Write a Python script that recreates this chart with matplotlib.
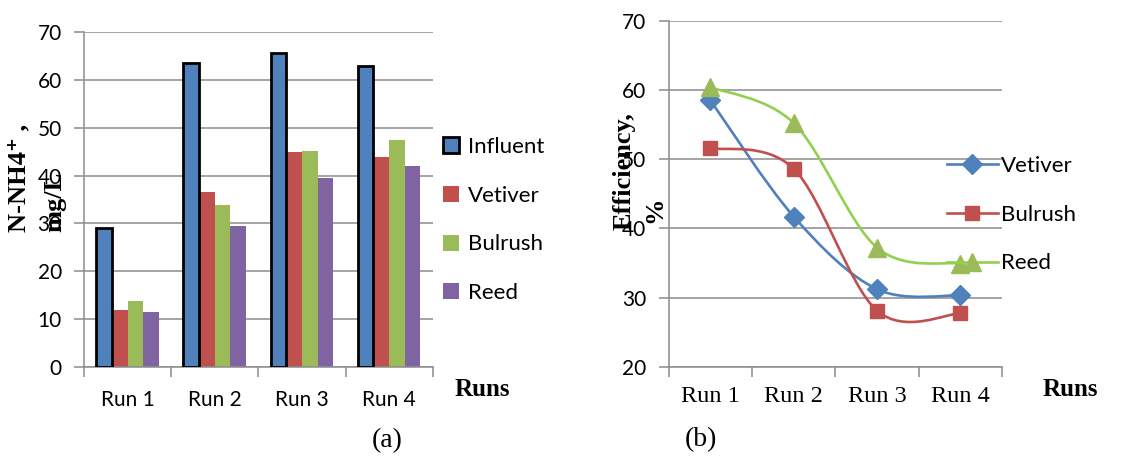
import matplotlib
matplotlib.use("Agg")
import matplotlib.pyplot as plt
import numpy as np
from matplotlib.path import Path
from matplotlib.patches import PathPatch
from matplotlib.lines import Line2D

# ---------------- data ----------------
runs = ["Run 1", "Run 2", "Run 3", "Run 4"]

# (a) N-NH4+ concentration, mg/L
bar_series = ["Influent", "Vetiver", "Bulrush", "Reed"]
influent = [29.0, 63.6, 65.7, 62.9]
vetiver_conc = [11.9, 36.6, 45.0, 43.8]
bulrush_conc = [13.7, 33.8, 45.2, 47.5]
reed_conc = [11.4, 29.4, 39.4, 42.1]

# (b) removal efficiency, %
line_series = ["Vetiver", "Bulrush", "Reed"]
vetiver_eff = [58.5, 41.7, 31.2, 30.3]
bulrush_eff = [51.6, 48.6, 28.1, 27.7]
reed_eff = [60.4, 55.2, 37.2, 34.9]

yticks_a = [0, 10, 20, 30, 40, 50, 60, 70]
yticks_b = [20, 30, 40, 50, 60, 70]

# ---------------- style ----------------
BLUE = "#4F81BD"
RED = "#C0504D"
GREEN = "#9BBB59"
PURPLE = "#8064A2"
GREEN_LINE = "#92D050"
GRID = "#8C8C8C"

SANS = ["Lato", "DejaVu Sans"]
SERIF = ["Liberation Serif", "DejaVu Serif"]

W, H = 1139, 457
fig = plt.figure(figsize=(W / 100, H / 100), dpi=100)


def fx(px):
    return px / W


def fy(py):
    return 1 - py / H


def style_axes(ax):
    for s in ["top", "right"]:
        ax.spines[s].set_visible(False)
    for s in ["left", "bottom"]:
        ax.spines[s].set_color(GRID)
        ax.spines[s].set_linewidth(1.1)
    ax.yaxis.grid(True, color=GRID, linewidth=1.1)
    ax.set_axisbelow(True)
    ax.tick_params(axis="y", which="major", length=7, width=1.1, color=GRID,
                   direction="out", pad=9)
    ax.tick_params(axis="x", which="major", length=7, width=1.1, color=GRID,
                   direction="out", labelbottom=False)
    ax.tick_params(axis="x", which="minor", length=0, pad=17)
    ax.set_xticks(np.arange(0, len(runs) + 1))
    ax.set_xticks(np.arange(len(runs)) + 0.5, minor=True)
    ax.set_xlim(0, len(runs))


# ---------------- (a) bar chart ----------------
axa = fig.add_axes([fx(84), fy(366.7), fx(432.7 - 84), (366.7 - 32.3) / H])
style_axes(axa)
axa.set_ylim(0, 70)
axa.set_yticks(yticks_a)
axa.set_yticklabels([str(v) for v in yticks_a], fontsize=15, family=SANS)
axa.set_xticklabels(runs, minor=True, fontsize=15, family=SANS)

bw = 0.18
centers = np.arange(len(runs)) + 0.5
bar_data = [influent, vetiver_conc, bulrush_conc, reed_conc]
bar_colors = [BLUE, RED, GREEN, PURPLE]
for k, (vals, col) in enumerate(zip(bar_data, bar_colors)):
    if k == 0:
        axa.bar(centers + (k - 1.5) * bw, vals, width=bw, color=col,
                edgecolor="black", linewidth=2.0, zorder=3)
    else:
        axa.bar(centers + (k - 1.5) * bw, vals, width=bw, color=col,
                linewidth=0, zorder=2)

handles_a = []
for k, (name, col) in enumerate(zip(bar_series, bar_colors)):
    handles_a.append(Line2D([], [], linestyle="none", marker="s", markersize=11.5,
                            markerfacecolor=col,
                            markeredgecolor="black" if k == 0 else col,
                            markeredgewidth=2.0 if k == 0 else 0))
leg_a = axa.legend(handles_a, bar_series, loc="upper left",
                   bbox_to_anchor=(fx(440), fy(137)), bbox_transform=fig.transFigure,
                   frameon=False, borderpad=0, borderaxespad=0, handlelength=1.0,
                   handletextpad=0.25, labelspacing=1.29,
                   prop={"family": SANS, "size": 16})
leg_a.set_zorder(5)

fig.text(fx(19), fy(232), "N-NH4\u207a ,", rotation=90, ha="center", va="bottom",
         fontsize=19, fontweight="bold", family=SERIF)
fig.text(fx(55), fy(232), "mg/L", rotation=90, ha="center", va="bottom",
         fontsize=19, fontweight="bold", family=SERIF)
fig.text(fx(455), fy(390), "Runs", ha="left", va="center", fontsize=18,
         fontweight="bold", family=SERIF)
fig.text(fx(387), fy(441), "(a)", ha="center", va="center", fontsize=20,
         family=SERIF)

# ---------------- (b) line chart ----------------
axb = fig.add_axes([fx(668.7), fy(366.7), fx(1002 - 668.7), (366.7 - 20.7) / H])
style_axes(axb)
axb.set_ylim(20, 70)
axb.set_yticks(yticks_b)
axb.set_yticklabels([str(v) for v in yticks_b], fontsize=15, family=SANS)
axb.set_xticklabels(runs, minor=True, fontsize=17.5, family=SERIF)
axb.tick_params(axis="x", which="minor", pad=14)


def smooth_path(xs, ys):
    """Bezier path through the points (Excel-style smoothed line)."""
    pts = np.column_stack([xs, ys]).astype(float)
    n = len(pts)
    verts = [pts[0]]
    codes = [Path.MOVETO]
    for i in range(n - 1):
        p0 = pts[max(i - 1, 0)]
        p1 = pts[i]
        p2 = pts[i + 1]
        p3 = pts[min(i + 2, n - 1)]
        c1 = p1 + (p2 - p0) / 6.0
        c2 = p2 - (p3 - p1) / 6.0
        verts += [c1, c2, p2]
        codes += [Path.CURVE4] * 3
    return Path(verts, codes)


line_data = [vetiver_eff, bulrush_eff, reed_eff]
line_colors = [BLUE, RED, GREEN_LINE]
marker_colors = [BLUE, RED, GREEN]
markers = ["D", "s", "^"]
msizes = [10, 10.5, 13]
handles_b = []
for vals, lc, mc, mk, ms in zip(line_data, line_colors, marker_colors, markers, msizes):
    path = smooth_path(centers, vals)
    axb.add_patch(PathPatch(path, facecolor="none", edgecolor=lc, linewidth=1.9,
                            zorder=3, capstyle="round", joinstyle="round"))
    axb.plot(centers, vals, linestyle="none", marker=mk, markersize=ms,
             markerfacecolor=mc, markeredgecolor=mc, zorder=4)
    handles_b.append(Line2D([], [], color=lc, linewidth=1.9, marker=mk,
                            markersize=ms, markerfacecolor=mc, markeredgecolor=mc))

leg_b = axb.legend(handles_b, line_series, loc="upper left",
                   bbox_to_anchor=(fx(946.7), fy(156)), bbox_transform=fig.transFigure,
                   frameon=False, borderpad=0, borderaxespad=0, handlelength=2.3,
                   handletextpad=0.15, labelspacing=1.29,
                   prop={"family": SANS, "size": 16})
leg_b.set_zorder(5)

fig.text(fx(624), fy(230), "Efficiency,", rotation=90, ha="center", va="bottom",
         fontsize=19, fontweight="bold", family=SERIF)
fig.text(fx(655), fy(223), "%", rotation=90, ha="center", va="bottom",
         fontsize=19, fontweight="bold", family=SERIF)
fig.text(fx(1043), fy(390), "Runs", ha="left", va="center", fontsize=18,
         fontweight="bold", family=SERIF)
fig.text(fx(701), fy(440), "(b)", ha="center", va="center", fontsize=20,
         family=SERIF)

fig.savefig("out.png", dpi=100)
